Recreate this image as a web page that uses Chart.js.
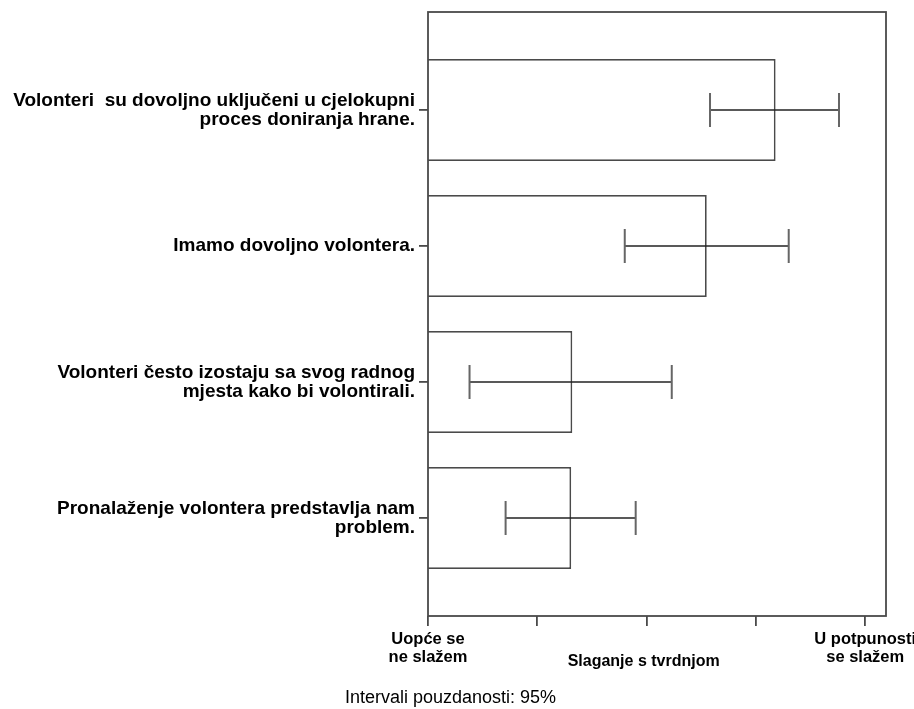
<!DOCTYPE html>
<html>
<head>
<meta charset="utf-8">
<script src="https://cdn.jsdelivr.net/npm/chart.js@4/dist/chart.umd.min.js"></script>
<style>
    body { margin: 0; background: #fff; }
    #wrap { width: 914px; height: 709px; position: relative; }
</style>
</head>
<body>
<div id="wrap"><canvas id="mycanvas"></canvas></div>
<script>
// statements (top to bottom)
var statements = [
    ['Volonteri  su dovoljno uključeni u cjelokupni', 'proces doniranja hrane.'],
    'Imamo dovoljno volontera.',
    ['Volonteri često izostaju sa svog radnog', 'mjesta kako bi volontirali.'],
    ['Pronalaženje volontera predstavlja nam', 'problem.']
];
var statementPos = [0, 1, 2, 3];
var means = [4.18, 3.55, 2.32, 2.31];
var ciLow = [3.58, 2.80, 1.38, 1.71];
var ciHigh = [4.76, 4.30, 3.23, 2.90];

var xTickValues = [1, 2, 3, 4, 5];
var xTickText = [['Uopće se', 'ne slažem'], '', '', '', ['U potpunosti', 'se slažem']];

var ink = '#4a4a4a';

// frame round the plot + error bars
var extrasPlugin = {
    id: 'extras',
    afterDatasetsDraw: function(chart) {
        var ctx = chart.ctx;
        var xs = chart.scales.x, ys = chart.scales.y;
        ctx.save();
        for (var i = 0; i < means.length; i++) {
            var y = ys.getPixelForValue(statementPos[i]);
            var x1 = xs.getPixelForValue(ciLow[i]);
            var x2 = xs.getPixelForValue(ciHigh[i]);
            ctx.strokeStyle = '#222';
            ctx.lineWidth = 1.5;
            ctx.beginPath();
            ctx.moveTo(x1, y); ctx.lineTo(x2, y);
            ctx.stroke();
            ctx.strokeStyle = '#666';
            ctx.lineWidth = 2;
            ctx.beginPath();
            ctx.moveTo(x1, y - 17); ctx.lineTo(x1, y + 17);
            ctx.moveTo(x2, y - 17); ctx.lineTo(x2, y + 17);
            ctx.stroke();
        }
        var a = chart.chartArea;
        ctx.strokeStyle = ink;
        ctx.lineWidth = 1.8;
        ctx.strokeRect(a.left, a.top, a.right - a.left, a.bottom - a.top);
        ctx.restore();
    }
};

var chartdata = {
    datasets: [
        {
            label: 'Slaganje',
            data: means.map(function(v, i) { return { x: v, y: statementPos[i] }; }),
            backgroundColor: '#ffffff',
            borderColor: ink,
            borderWidth: 1.8,
            borderSkipped: false,
            categoryPercentage: 0.75,
            barPercentage: 1.0
        }
    ]
};

var ctx = document.getElementById('mycanvas');
var barChart = new Chart(ctx, {
    type: 'bar',
    data: chartdata,
    plugins: [extrasPlugin],
    options: {
        indexAxis: 'y',
        responsive: true,
        maintainAspectRatio: false,
        animation: false,
        layout: { padding: { top: 12, right: 28, left: 0, bottom: 0 } },
        scales: {
            x: {
                type: 'linear',
                min: 1,
                max: 5.19,
                offset: false,
                afterBuildTicks: function(axis) {
                    axis.ticks = xTickValues.map(function(v) { return { value: v }; });
                },
                afterFit: function(axis) {
                    axis.height = 69.4;
                    axis.paddingLeft = 0;
                    axis.paddingRight = 0;
                },
                grid: { drawOnChartArea: false, drawTicks: true, offset: false, tickLength: 10, color: ink, lineWidth: 1.8 },
                border: { display: false },
                ticks: {
                    color: '#000',
                    padding: 4,
                    maxRotation: 0,
                    autoSkip: false,
                    font: { family: 'Liberation Sans', weight: 'bold', size: 16.5, lineHeight: 1.1 },
                    callback: function(value) {
                        var k = xTickValues.indexOf(value);
                        return k >= 0 ? xTickText[k] : '';
                    }
                },
                title: {
                    display: true,
                    text: 'Slaganje s tvrdnjom\u00a0\u00a0\u00a0\u00a0\u00a0\u00a0',
                    color: '#000',
                    padding: { top: 0, bottom: 14 },
                    font: { family: 'Liberation Sans', weight: 'bold', size: 16 }
                }
            },
            y: {
                type: 'linear',
                reverse: true,
                min: -0.72,
                max: 3.72,
                offset: false,
                afterBuildTicks: function(axis) {
                    axis.ticks = statementPos.map(function(v) { return { value: v }; });
                },
                afterFit: function(axis) {
                    axis.width = 428;
                    axis.paddingTop = 0;
                    axis.paddingBottom = 0;
                },
                grid: { drawOnChartArea: false, drawTicks: true, offset: false, tickLength: 9, color: ink, lineWidth: 1.8 },
                border: { display: false },
                ticks: {
                    color: '#000',
                    padding: 4,
                    autoSkip: false,
                    font: { family: 'Liberation Sans', weight: 'bold', size: 19, lineHeight: 1.0 },
                    callback: function(value) {
                        var k = statementPos.indexOf(value);
                        return k >= 0 ? statements[k] : '';
                    }
                }
            }
        },
        plugins: {
            legend: { display: false },
            tooltip: { enabled: false },
            title: {
                display: true,
                position: 'bottom',
                text: '\u00a0\u00a0\u00a0Intervali pouzdanosti: 95%',
                color: '#000',
                padding: { top: 2, bottom: 0 },
                font: { family: 'Liberation Sans', weight: 'normal', size: 18, lineHeight: 1.2 }
            }
        }
    }
});
</script>
</body>
</html>
